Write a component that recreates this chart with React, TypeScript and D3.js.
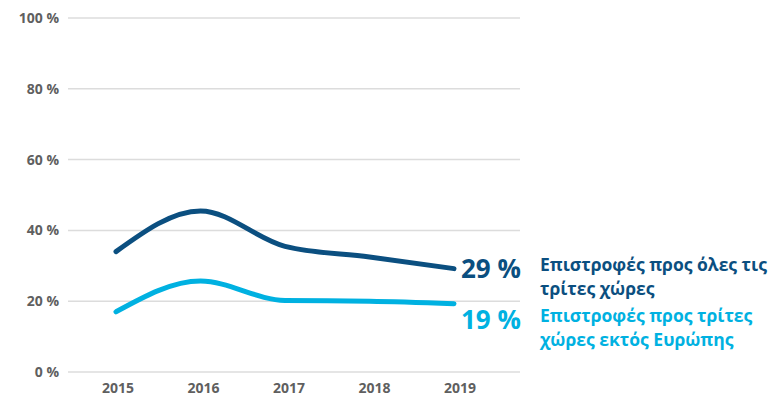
import React from "react";
import * as d3 from "d3";

const years = ["2015", "2016", "2017", "2018", "2019"];
const allThird = [34, 45.5, 35.5, 32.5, 29.2];
const outsideEurope = [17, 25.7, 20.2, 20, 19.3];
const yTicks = [0, 20, 40, 60, 80, 100];
const endLabels = ["29 %", "19 %"];
const legendAll = ["Επιστροφές προς όλες τις", "τρίτες χώρες"];
const legendOut = ["Επιστροφές προς τρίτες", "χώρες εκτός Ευρώπης"];

const W = 784, H = 405;
const DARK = "#0b4f80";
const LIGHT = "#00b1e1";
const FONT = "'Open Sans', 'DejaVu Sans', sans-serif";

export default function App() {
  const x = d3.scalePoint<string>().domain(years).range([118, 460]);
  const xLine = d3.scalePoint<string>().domain(years).range([116, 454]);
  const y = d3.scaleLinear().domain([0, 100]).range([372, 18]);
  const line = d3
    .line<number>()
    .x((_, i) => xLine(years[i]) as number)
    .y((d) => y(d))
    .curve(d3.curveMonotoneX);

  return (
    <svg width={W} height={H} style={{ position: "absolute", left: 0, top: 0 }} fontFamily={FONT}>
      {yTicks.map((t) => (
        <g key={t}>
          <line x1={68} x2={520} y1={y(t)} y2={y(t)} stroke="#dcdcdc" strokeWidth={1.5} />
          <text x={59} y={y(t)} dy="0.35em" textAnchor="end" fontSize={14} fontWeight={700} fill="#5f5f5f">
            {t} %
          </text>
        </g>
      ))}
      {years.map((yr) => (
        <text key={yr} x={x(yr)} y={393} textAnchor="middle" fontSize={14} fontWeight={700} fill="#5f5f5f">
          {yr}
        </text>
      ))}
      <path d={line(allThird) || ""} fill="none" stroke={DARK} strokeWidth={5} strokeLinecap="round" />
      <path d={line(outsideEurope) || ""} fill="none" stroke={LIGHT} strokeWidth={5} strokeLinecap="round" />
      <text x={461} y={y(allThird[4]) + 9} fontSize={26} fontWeight={700} fill={DARK}>
        {endLabels[0]}
      </text>
      <text x={461} y={y(outsideEurope[4]) + 25} fontSize={26} fontWeight={700} fill={LIGHT}>
        {endLabels[1]}
      </text>
      {legendAll.map((s, i) => (
        <text key={s} x={540} y={271 + i * 24} fontSize={17.5} fontWeight={700} fill={DARK}>
          {s}
        </text>
      ))}
      {legendOut.map((s, i) => (
        <text key={s} x={540} y={322 + i * 24} fontSize={17.5} fontWeight={700} fill={LIGHT}>
          {s}
        </text>
      ))}
    </svg>
  );
}
